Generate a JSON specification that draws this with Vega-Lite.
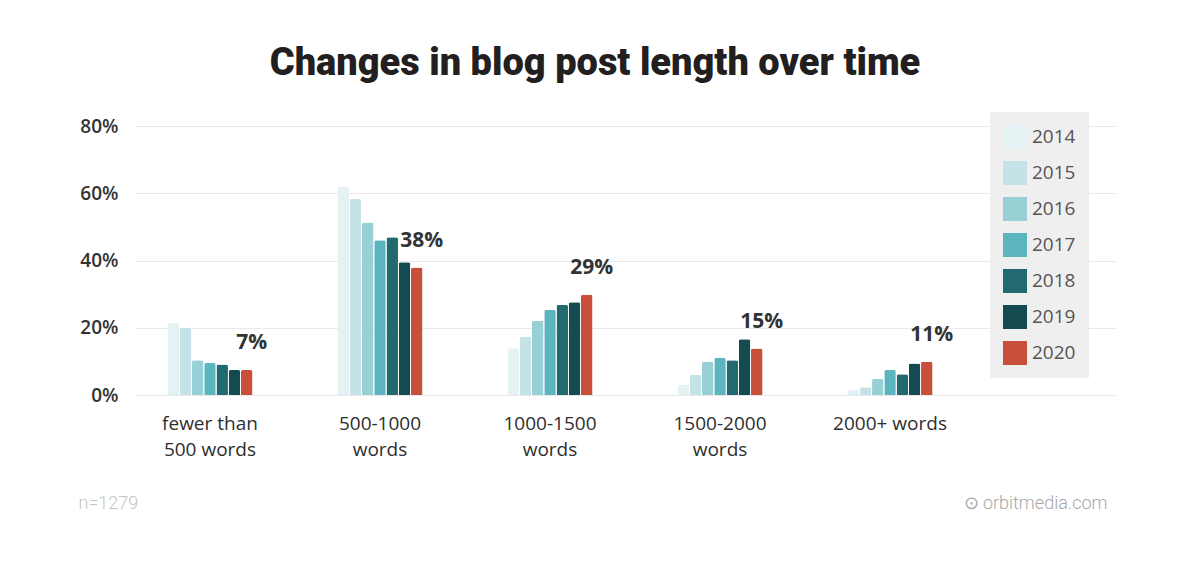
{
  "$schema": "https://vega.github.io/schema/vega-lite/v6.json",
  "width": 980,
  "height": 269,
  "autosize": {"type": "none"},
  "padding": {"left": 135, "top": 126, "right": 62, "bottom": 170},
  "background": "white",
  "title": {
    "text": "Changes in blog post length over time",
    "font": "Roboto",
    "fontWeight": 900,
    "fontSize": 38,
    "color": "#231f20",
    "anchor": "middle",
    "frame": "group",
    "dx": -30,
    "offset": 29
  },
  "config": {
    "view": {"stroke": null},
    "font": "Open Sans"
  },
  "data": {
    "values": [
      {"group": "fewer than 500 words", "year": "2014", "value": 21.5},
      {"group": "fewer than 500 words", "year": "2015", "value": 20.0},
      {"group": "fewer than 500 words", "year": "2016", "value": 10.3},
      {"group": "fewer than 500 words", "year": "2017", "value": 9.5},
      {"group": "fewer than 500 words", "year": "2018", "value": 9.1},
      {"group": "fewer than 500 words", "year": "2019", "value": 7.4},
      {"group": "fewer than 500 words", "year": "2020", "value": 7.4, "label": "7%"},
      {"group": "500-1000 words", "year": "2014", "value": 62.0},
      {"group": "500-1000 words", "year": "2015", "value": 58.3},
      {"group": "500-1000 words", "year": "2016", "value": 51.3},
      {"group": "500-1000 words", "year": "2017", "value": 46.0},
      {"group": "500-1000 words", "year": "2018", "value": 46.9},
      {"group": "500-1000 words", "year": "2019", "value": 39.5},
      {"group": "500-1000 words", "year": "2020", "value": 37.9, "label": "38%"},
      {"group": "1000-1500 words", "year": "2014", "value": 13.9},
      {"group": "1000-1500 words", "year": "2015", "value": 17.3},
      {"group": "1000-1500 words", "year": "2016", "value": 22.1},
      {"group": "1000-1500 words", "year": "2017", "value": 25.3},
      {"group": "1000-1500 words", "year": "2018", "value": 26.8},
      {"group": "1000-1500 words", "year": "2019", "value": 27.6},
      {"group": "1000-1500 words", "year": "2020", "value": 29.8, "label": "29%"},
      {"group": "1500-2000 words", "year": "2014", "value": 3.0},
      {"group": "1500-2000 words", "year": "2015", "value": 6.0},
      {"group": "1500-2000 words", "year": "2016", "value": 9.9},
      {"group": "1500-2000 words", "year": "2017", "value": 11.1},
      {"group": "1500-2000 words", "year": "2018", "value": 10.3},
      {"group": "1500-2000 words", "year": "2019", "value": 16.6},
      {"group": "1500-2000 words", "year": "2020", "value": 13.8, "label": "15%"},
      {"group": "2000+ words", "year": "2014", "value": 1.5},
      {"group": "2000+ words", "year": "2015", "value": 2.3},
      {"group": "2000+ words", "year": "2016", "value": 4.8},
      {"group": "2000+ words", "year": "2017", "value": 7.4},
      {"group": "2000+ words", "year": "2018", "value": 6.2},
      {"group": "2000+ words", "year": "2019", "value": 9.4},
      {"group": "2000+ words", "year": "2020", "value": 9.9, "label": "11%"}
    ]
  },
  "encoding": {
    "x": {
      "field": "group",
      "type": "nominal",
      "sort": null,
      "scale": {"paddingInner": 0.5, "paddingOuter": 0.632, "align": 0.151},
      "axis": {
        "labelAngle": 0,
        "labelExpr": "datum.label == '2000+ words' ? datum.label : datum.label == 'fewer than 500 words' ? ['fewer than', '500 words'] : split(datum.label, ' ')",
        "labelFontSize": 19,
        "labelColor": "#2e2e2e",
        "labelLineHeight": 26,
        "labelPadding": 19,
        "labelBaseline": "top",
        "domain": false,
        "ticks": false,
        "title": "n=1279",
        "titleFont": "Roboto",
        "titleFontWeight": 300,
        "titleFontSize": 18,
        "titleColor": "#c4c4c4",
        "titleAnchor": "start",
        "titleAlign": "left",
        "titleBaseline": "middle",
        "titleX": -57,
        "titleY": 108
      }
    },
    "xOffset": {
      "field": "year",
      "type": "nominal",
      "scale": {"paddingInner": 0.06}
    },
    "y": {
      "field": "value",
      "type": "quantitative",
      "scale": {"domain": [0, 80]},
      "axis": {
        "values": [0, 20, 40, 60, 80],
        "labelExpr": "datum.value + '%'",
        "labelFontSize": 19,
        "labelFontWeight": 600,
        "labelColor": "#333333",
        "labelPadding": 17,
        "domain": false,
        "ticks": false,
        "gridColor": "#e9e9e9",
        "title": "⊙ orbitmedia.com",
        "titleFont": "Roboto",
        "titleFontWeight": 300,
        "titleFontSize": 18,
        "titleColor": "#a8a8a8",
        "titleAngle": 0,
        "titleAnchor": "start",
        "titleAlign": "left",
        "titleBaseline": "middle",
        "titleX": 828,
        "titleY": 377
      }
    }
  },
  "layer": [
    {
      "mark": {"type": "bar", "cornerRadiusTopLeft": 2, "cornerRadiusTopRight": 2},
      "encoding": {
        "color": {
          "field": "year",
          "type": "nominal",
          "scale": {
            "domain": ["2014", "2015", "2016", "2017", "2018", "2019", "2020"],
            "range": ["#e4f2f3", "#c5e3e6", "#97d0d5", "#5ab5bf", "#226a70", "#154a50", "#c8503a"]
          },
          "legend": {
            "title": null,
            "orient": "none",
            "legendX": 855,
            "legendY": -14,
            "fillColor": "#efefef",
            "padding": 13,
            "symbolType": "square",
            "symbolSize": 576,
            "symbolStrokeWidth": 0,
            "symbolOpacity": 1,
            "labelFontSize": 19,
            "labelColor": "#555555",
            "labelOffset": 5,
            "labelExpr": "datum.label + '\u00a0\u00a0\u00a0'",
            "rowPadding": 12
          }
        }
      }
    },
    {
      "transform": [{"filter": "datum.label != null"}],
      "mark": {
        "type": "text",
        "fontSize": 21,
        "fontWeight": "bold",
        "color": "#333333",
        "dy": -27,
        "dx": 5,
        "baseline": "middle"
      },
      "encoding": {
        "text": {"field": "label"}
      }
    }
  ]
}
